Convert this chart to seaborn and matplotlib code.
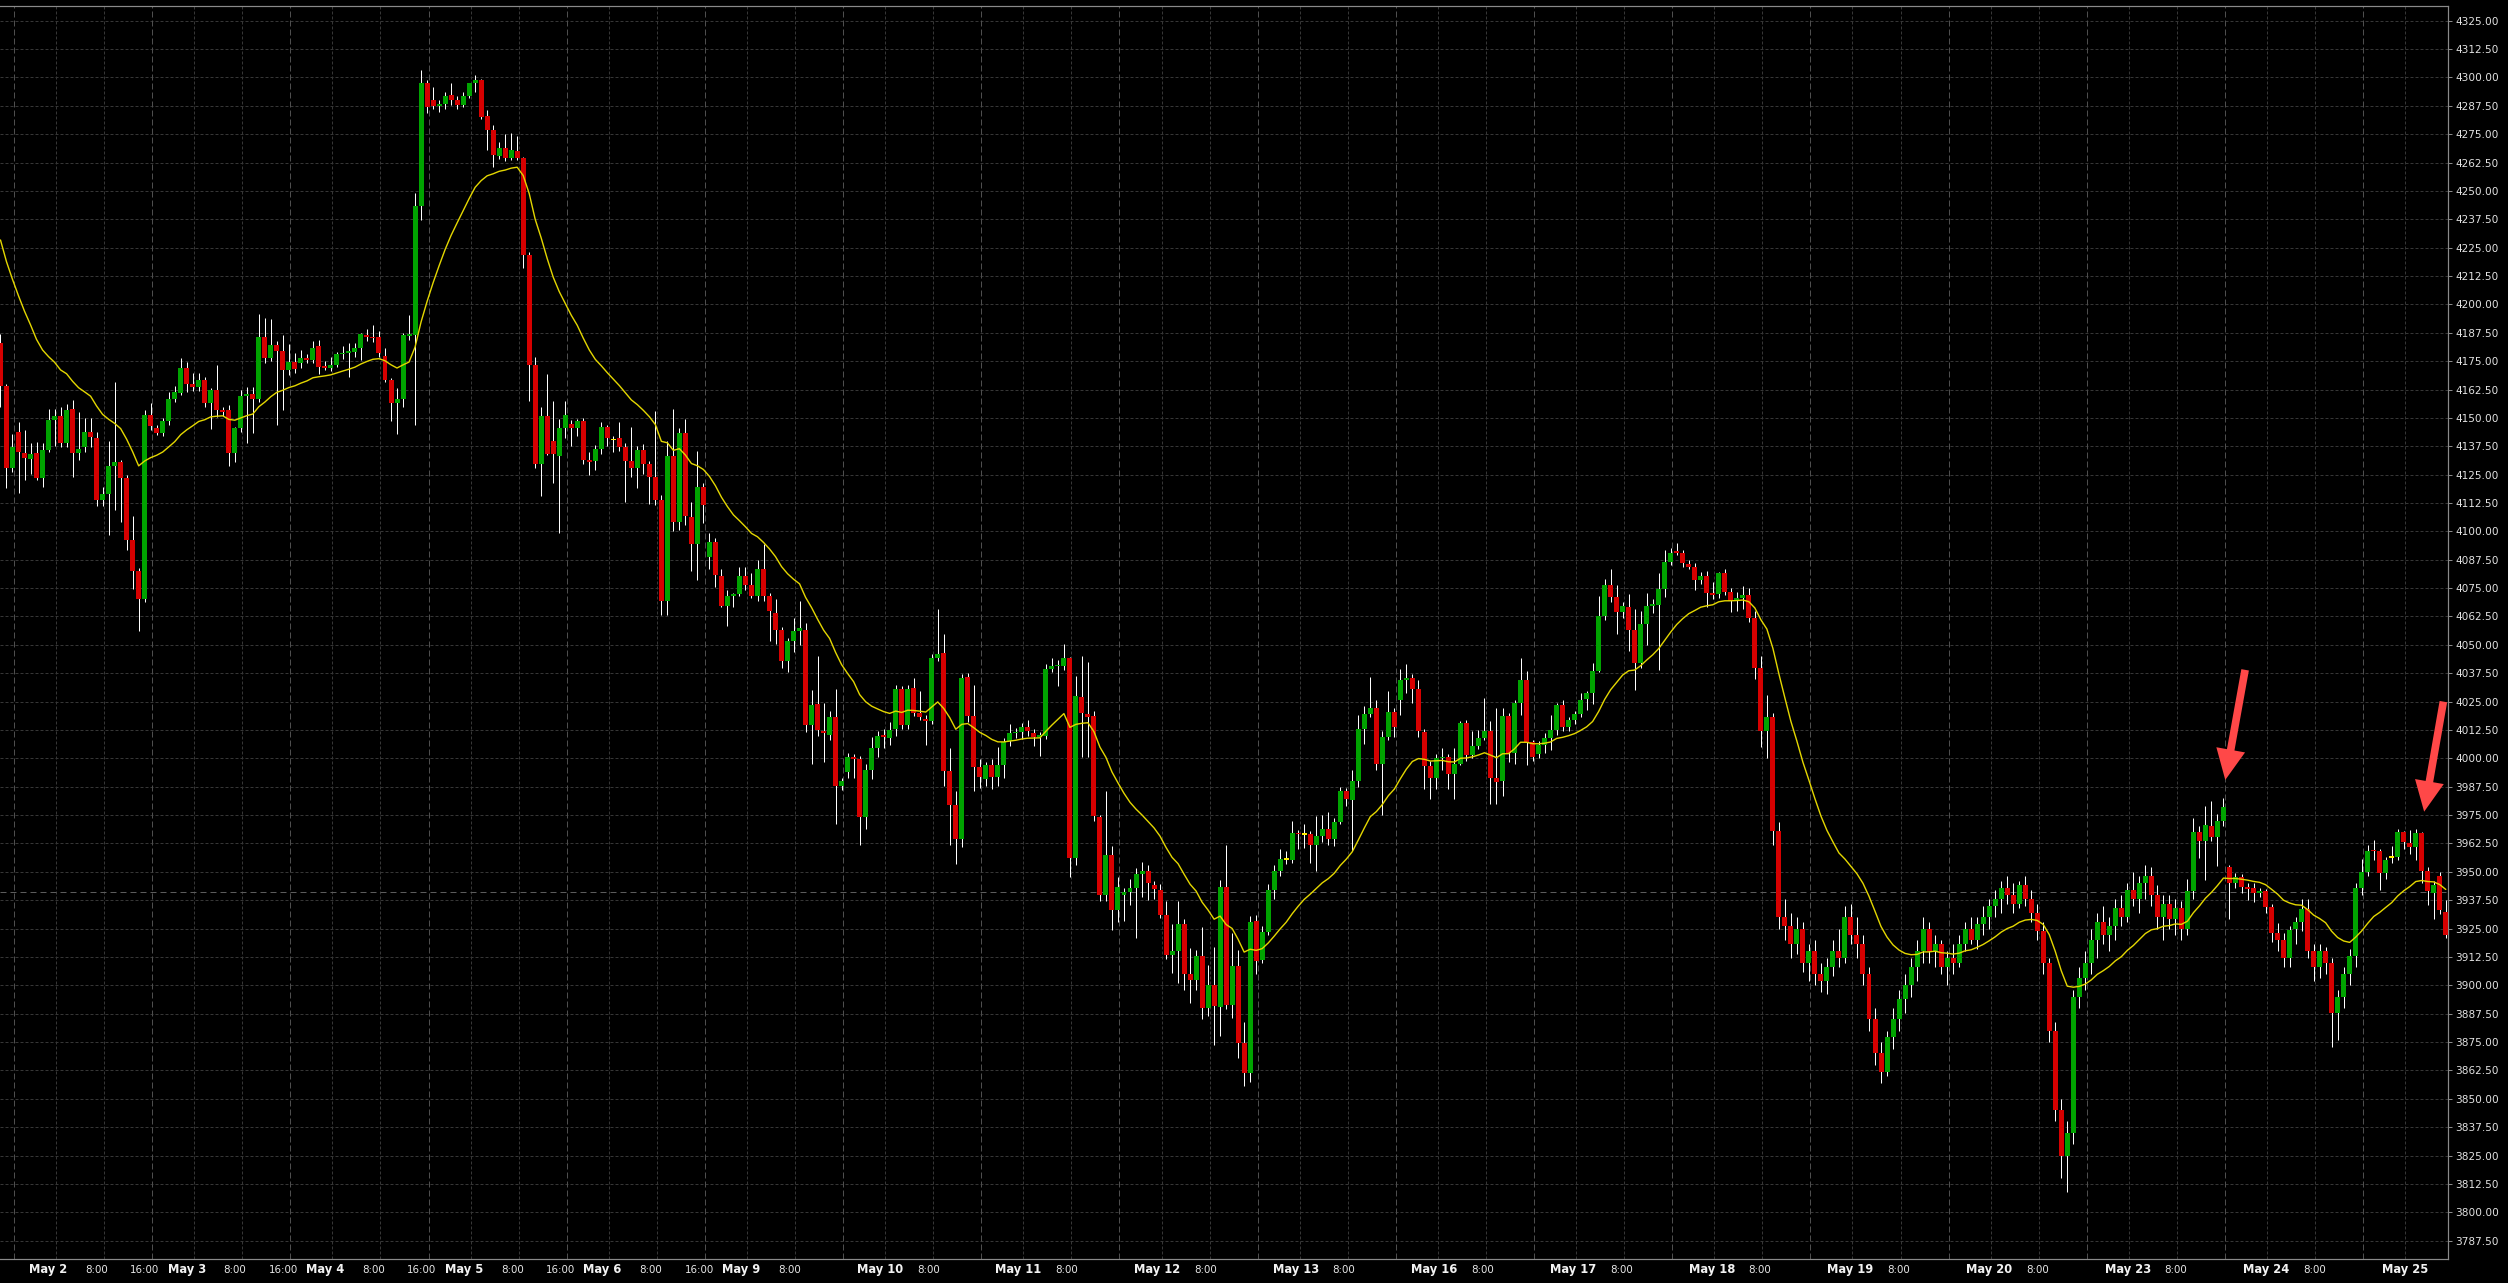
import numpy as np
import pandas as pd
import matplotlib
matplotlib.use("Agg")
import matplotlib.pyplot as plt
import matplotlib.transforms as mtransforms
import seaborn as sns

# hourly candles (index 0 = first candle at the left edge)
opens = [
    4183, 4164, 4128, 4144, 4134.5, 4132, 4134.5, 4123.5, 4136, 4149,
    4151, 4139, 4154, 4134.5, 4137, 4144, 4141, 4114, 4116.5, 4129,
    4130.5, 4123.5, 4096, 4082.5, 4070, 4151.5, 4145.5, 4143.5, 4148.5, 4158.5,
    4161, 4172, 4165, 4163.5, 4166.5, 4156.5, 4162.5, 4153.5, 4153.5, 4134.5,
    4145.5, 4159.5, 4160.5, 4158.5, 4185.5, 4176.5, 4182, 4179.5, 4171, 4174.5,
    4174, 4176.5, 4175.5, 4181.5, 4173, 4172, 4173.5, 4178, 4178.5, 4179,
    4181, 4186.5, 4185.5, 4185.5, 4177.5, 4166.5, 4156.5, 4158.5, 4186, 4186.5,
    4243.5, 4297.5, 4290, 4287.5, 4288.5, 4292.5, 4290, 4288, 4292, 4297.5,
    4299, 4283, 4277, 4265.5, 4269, 4264.5, 4267.5, 4264.5, 4222, 4173.5,
    4129.5, 4151, 4140, 4133, 4145.5, 4147.5, 4145.5, 4148.5, 4131.5, 4131,
    4136.5, 4146, 4140.5, 4141, 4137, 4131, 4128, 4136, 4129.5, 4124,
    4114, 4069.5, 4133, 4104, 4143.5, 4106.5, 4094.5, 4119.5, 4088.5, 4095.5,
    4080.5, 4067, 4071.5, 4072.5, 4080.5, 4076.5, 4071.5, 4083.5, 4071.5, 4064,
    4056.5, 4043, 4051.5, 4056, 4056.5, 4014.5, 4024, 4012, 4010.5, 4018,
    3988, 3994, 4000.5, 3999.5, 3974, 3995, 4004.5, 4010, 4009, 4013,
    4030.5, 4014.5, 4031, 4020, 4017.5, 4016.5, 4044, 4046.5, 3994.5, 3979.5,
    3964.5, 4036, 4018.5, 3996, 3991, 3997, 3992, 3997, 4007.5, 4011,
    4011.5, 4014, 4011, 4009.5, 4010, 4039.5, 4040.5, 4040.5, 4044, 3956,
    4027, 4019.5, 4018.5, 3974, 3940, 3957.5, 3933, 3940, 3941, 3943,
    3949, 3950.5, 3944, 3942, 3931, 3913.5, 3915, 3927, 3905, 3902.5,
    3913, 3890, 3900, 3890.5, 3943.5, 3891.5, 3908.5, 3874.5, 3861.5, 3928.5,
    3911, 3923.5, 3942, 3950.5, 3955.5, 3955, 3967, 3966.5, 3966.5, 3962,
    3966, 3969, 3964.5, 3972, 3985.5, 3981.5, 3990, 4013, 4019.5, 4022,
    3997.5, 4009.5, 4020.5, 4025.5, 4034.5, 4035.5, 4030.5, 4011.5, 3996.5, 3991.5,
    4000, 4000.5, 3993, 3997.5, 4015.5, 4001.5, 4005.5, 4009, 4012, 3991.5,
    3990, 4018.5, 4002.5, 4024.5, 4034.5, 4007, 4002, 4006, 4009, 4012.5,
    4023.5, 4014, 4017, 4019.5, 4026, 4029, 4038.5, 4062.5, 4076.5, 4071,
    4064.5, 4066.5, 4056.5, 4042, 4059, 4067, 4067.5, 4074.5, 4086.5, 4091.5,
    4090.5, 4085.5, 4084.5, 4078.5, 4080.5, 4073, 4072.5, 4081.5, 4073.5, 4069.5,
    4070.5, 4072, 4062, 4040, 4012, 4018, 3968, 3930, 3926, 3918,
    3925, 3910, 3915, 3905, 3902, 3908, 3915, 3912, 3930, 3922,
    3918, 3905, 3885, 3870, 3862, 3877, 3885, 3894, 3900, 3908,
    3915, 3925, 3915, 3918, 3908, 3912, 3910, 3918, 3925, 3920,
    3927, 3930, 3935, 3938, 3943, 3940, 3936, 3944, 3938, 3932,
    3924, 3910, 3880, 3845, 3825, 3835, 3895, 3903, 3910, 3920,
    3928, 3922, 3926, 3934, 3930, 3942, 3938, 3945, 3948, 3940,
    3930, 3936, 3929, 3934, 3925, 3941.5, 3967.5, 3963.5, 3970, 3965.5,
    3972.5, 3952, 3945, 3947.5, 3943.5, 3943, 3940.5, 3941.5, 3934.5, 3923,
    3920, 3912, 3925, 3928, 3933.5, 3915, 3908, 3915, 3910, 3888,
    3895, 3905, 3913, 3943, 3950, 3959.5, 3959, 3949.5, 3956.5, 3956.5,
    3967.5, 3962.5, 3961, 3967, 3950.5, 3940.5, 3948, 3932.5,
]
highs = [
    4187, 4165, 4143, 4148, 4144.5, 4139, 4139.5, 4139, 4154, 4154,
    4155, 4156, 4158, 4152.5, 4150, 4150, 4144, 4119.5, 4140, 4166,
    4131.5, 4125, 4107, 4084, 4153.5, 4156.5, 4147, 4150, 4161.5, 4164,
    4176.5, 4174.5, 4170, 4170, 4168, 4163, 4173.5, 4155, 4155.5, 4146,
    4162.5, 4163.5, 4163.5, 4196, 4194, 4193.5, 4184, 4186.5, 4182.5, 4178.5,
    4180, 4178, 4184, 4184.5, 4175, 4177, 4179, 4181.5, 4183, 4183,
    4187.5, 4189, 4191, 4188.5, 4181, 4167.5, 4163, 4187.5, 4195.5, 4249,
    4303.5, 4299, 4296, 4290, 4293.5, 4297.5, 4292, 4293.5, 4297.5, 4301,
    4299.5, 4285.5, 4279, 4271.5, 4275, 4275.5, 4274, 4265, 4223, 4177,
    4155, 4169.5, 4157.5, 4149.5, 4157.5, 4149, 4149.5, 4150, 4135, 4138,
    4148, 4147, 4142, 4148, 4139, 4146, 4137.5, 4138.5, 4131, 4153,
    4116, 4140, 4154, 4145.5, 4149.5, 4113, 4135.5, 4121.5, 4099.5, 4097,
    4083.5, 4074, 4073, 4084.5, 4084.5, 4081.5, 4087.5, 4094.5, 4073, 4070,
    4058, 4053, 4062, 4069.5, 4059.5, 4030, 4045, 4024.5, 4021, 4030.5,
    3991.5, 4002.5, 4002, 4001, 3997.5, 4009.5, 4012, 4013, 4016, 4032.5,
    4032, 4032.5, 4035.5, 4029.5, 4019, 4046, 4066, 4055, 4004.5, 3985.5,
    4037, 4037.5, 4032.5, 3999.5, 3998.5, 3999.5, 4005, 4009, 4015, 4013.5,
    4015.5, 4017, 4013, 4011.5, 4041.5, 4044, 4043.5, 4050.5, 4044.5, 4036.5,
    4045, 4042.5, 4021, 3975, 3985.5, 3961.5, 3947.5, 3943, 3947, 3951.5,
    3954.5, 3953, 3946, 3944.5, 3937, 3927, 3937, 3929, 3916.5, 3915.5,
    3925.5, 3909, 3917, 3946.5, 3962, 3923, 3915.5, 3884, 3930.5, 3931,
    3926, 3944.5, 3953, 3960, 3959, 3972.5, 3968.5, 3971, 3968, 3974.5,
    3975, 3976.5, 3973.5, 3987.5, 3987, 3995, 4019, 4023, 4036, 4025.5,
    4012, 4029.5, 4022, 4039.5, 4041.5, 4037, 4034.5, 4013, 3999, 4002,
    4004.5, 4002, 4004.5, 4016.5, 4017, 4012, 4012.5, 4026.5, 4016.5, 4022,
    4022, 4020, 4025.5, 4044, 4038.5, 4008, 4007.5, 4011, 4019, 4024.5,
    4025.5, 4018, 4021, 4029, 4029.5, 4042, 4071.5, 4079, 4083.5, 4076.5,
    4069, 4072.5, 4066, 4065, 4073, 4070, 4081.5, 4092, 4092.5, 4095,
    4092, 4087.5, 4086, 4082, 4082.5, 4077.5, 4082, 4083.5, 4075, 4073.5,
    4076, 4075, 4065, 4045, 4028, 4020, 3972, 3938, 3932, 3930,
    3928, 3918, 3920, 3910, 3912, 3920, 3925, 3935, 3936, 3930,
    3922, 3908, 3890, 3875, 3880, 3890, 3898, 3905, 3912, 3920,
    3930, 3928, 3922, 3920, 3915, 3918, 3922, 3928, 3930, 3930,
    3935, 3938, 3942, 3946, 3948, 3945, 3946, 3948, 3942, 3936,
    3928, 3912, 3884, 3850, 3840, 3898, 3908, 3915, 3925, 3932,
    3935, 3930, 3938, 3940, 3945, 3950, 3948, 3953, 3952, 3944,
    3940, 3940, 3938, 3937, 3947, 3973.5, 3970, 3979, 3981, 3975.5,
    3982.5, 3953, 3949.5, 3949, 3945, 3945, 3943, 3942.5, 3936, 3927.5,
    3923, 3926, 3930, 3938, 3938, 3918, 3918, 3917, 3912, 3898,
    3908, 3916, 3945, 3955.5, 3962, 3964, 3960, 3956.7, 3961.5, 3969,
    3968, 3968.5, 3969, 3967.5, 3952, 3946, 3950, 3937.5,
]
lows = [
    4155, 4119, 4126, 4117, 4122.5, 4125.5, 4122.5, 4119.5, 4135, 4137.5,
    4137, 4137, 4124, 4131.5, 4135, 4137, 4111, 4111, 4098.5, 4109.5,
    4104, 4092, 4074.5, 4056, 4069, 4144.5, 4142.5, 4142, 4147, 4157,
    4160, 4161.5, 4162, 4162, 4155, 4145, 4150.5, 4151, 4129, 4130.5,
    4144, 4139, 4143.5, 4157, 4174, 4175, 4147, 4153.5, 4169, 4170,
    4172, 4174, 4174, 4169.5, 4171, 4170.5, 4172.5, 4176, 4168, 4177,
    4175.5, 4184, 4183.5, 4177, 4166, 4148.5, 4143, 4155, 4184.5, 4147,
    4237, 4284.5, 4286, 4285, 4286, 4288, 4286, 4287, 4291, 4293.5,
    4281.5, 4268, 4260.5, 4264, 4263, 4263.5, 4263.5, 4216, 4157.5, 4128,
    4115.5, 4133.5, 4121.5, 4099.5, 4141, 4137.5, 4142, 4129.5, 4125, 4127,
    4134, 4137.5, 4135, 4135.5, 4113, 4124, 4119, 4125.5, 4112, 4111.5,
    4063, 4063, 4100, 4100.5, 4103, 4082.5, 4078.5, 4103.5, 4083.5, 4075.5,
    4066.5, 4058.5, 4066.5, 4071.5, 4074, 4070.5, 4069.5, 4069.5, 4051.5, 4050.5,
    4040, 4038, 4047, 4050, 4011.5, 3997.5, 4010, 3998.5, 4008, 3971,
    3986, 3991.5, 3991.5, 3962, 3969, 3991, 4000.5, 4004.5, 4006, 4010,
    4013, 4013, 4018.5, 4017, 4006, 4015, 4043, 3988, 3962, 3953.5,
    3961, 4016, 3985.5, 3987, 3988, 3986.5, 3988, 3991.5, 4005.5, 4009,
    4008.5, 4010, 4005.5, 4001, 4008.5, 4038, 4032, 4039, 3947.5, 3953,
    4000.5, 4000.5, 3972.5, 3937, 3937, 3924.5, 3928, 3928.5, 3935.5, 3921,
    3939, 3937.5, 3938, 3929.5, 3911.5, 3905.5, 3901, 3898, 3892, 3898,
    3885, 3886.5, 3873.5, 3877.5, 3889.5, 3885.5, 3868, 3855.5, 3857.5, 3905,
    3910, 3922, 3938, 3948, 3953.5, 3954, 3960, 3960.5, 3954, 3950.5,
    3963, 3962, 3961.5, 3971, 3979, 3959, 3987.5, 4006.5, 4018, 3995,
    3975, 4008, 4009.5, 4019, 4029, 4024.5, 4009.5, 3986.5, 3982, 3986.5,
    3995, 3986.5, 3982, 3997, 3999, 4000, 4004, 4008, 3980, 3980,
    3983.5, 3998.5, 3997.5, 4019, 3997, 3999, 4000, 4002.5, 4003.5, 4010.5,
    4012, 4012, 4015, 4018, 4021.5, 4024, 4038, 4061, 4069, 4055,
    4062, 4047.5, 4030, 4040, 4050, 4064, 4039, 4071, 4085, 4089.5,
    4084.5, 4083.5, 4074, 4077, 4066.5, 4070, 4070.5, 4072, 4064.5, 4065,
    4066, 4060, 4035, 4005, 4000, 3962, 3925, 3920, 3912, 3914,
    3906, 3902, 3900, 3897, 3896, 3904, 3908, 3910, 3918, 3912,
    3900, 3880, 3865, 3857, 3860, 3872, 3880, 3888, 3895, 3902,
    3910, 3910, 3908, 3905, 3900, 3905, 3908, 3915, 3918, 3916,
    3922, 3925, 3930, 3932, 3936, 3932, 3934, 3935, 3928, 3920,
    3905, 3875, 3840, 3815, 3809, 3830, 3890, 3898, 3905, 3912,
    3918, 3915, 3920, 3926, 3928, 3935, 3932, 3938, 3935, 3925,
    3920, 3925, 3922, 3920, 3922, 3938, 3956, 3946.5, 3963.5, 3952.5,
    3970, 3929, 3943, 3940.5, 3937.5, 3936.5, 3939, 3932, 3919, 3915,
    3908, 3908, 3918, 3924, 3912, 3902, 3903, 3905, 3873, 3876,
    3890, 3900, 3908, 3939.8, 3948, 3955, 3942, 3947, 3954, 3955,
    3960, 3958, 3955, 3945, 3935.5, 3929, 3931.5, 3921,
]
closes = [
    4164, 4128, 4137, 4135, 4132.5, 4134, 4123.5, 4136, 4149, 4151,
    4139, 4153.5, 4134.5, 4136.5, 4144, 4141.5, 4114, 4116.5, 4129, 4130.5,
    4123.5, 4096, 4082.5, 4070, 4151.5, 4146.5, 4143.5, 4148.5, 4158.5, 4161.5,
    4172, 4165, 4163.5, 4166.5, 4156.5, 4162.5, 4153.5, 4152.5, 4134.5, 4145.5,
    4159.5, 4160.5, 4158.5, 4185.5, 4176.5, 4182, 4179.5, 4171, 4174.5, 4171.5,
    4176.5, 4175.5, 4181, 4172.5, 4172, 4173.5, 4178, 4178.5, 4179, 4181,
    4187, 4185.5, 4185, 4178.5, 4166.5, 4156.5, 4158.5, 4186.5, 4186.5, 4243.5,
    4297.5, 4287, 4287.5, 4288.5, 4292, 4290, 4288, 4292, 4297.5, 4299,
    4282.5, 4277, 4266, 4269, 4264.5, 4268, 4264.5, 4222, 4173.5, 4129.5,
    4151, 4134, 4134, 4145.5, 4151.5, 4145.5, 4148.5, 4131.5, 4130.5, 4136.5,
    4146, 4141, 4140.5, 4137, 4131, 4128, 4136, 4129.5, 4124, 4114,
    4069.5, 4133, 4104, 4143.5, 4107, 4094.5, 4119.5, 4111.5, 4095.5, 4081,
    4067, 4071.5, 4072.5, 4080.5, 4076.5, 4071.5, 4083.5, 4071.5, 4065, 4056.5,
    4043, 4051.5, 4056, 4057.5, 4014.5, 4023.5, 4012.5, 4011, 4018, 3988,
    3990, 4000.5, 3999.5, 3974, 3995, 4004.5, 4010, 4009.5, 4012.5, 4030.5,
    4014.5, 4030.5, 4020, 4018, 4016.5, 4044, 4046, 3994.5, 3979.5, 3964.5,
    4035.5, 4018.5, 3996, 3992, 3997, 3992, 3997, 4007, 4011, 4011.5,
    4014, 4012, 4009.5, 4010, 4039.5, 4040.5, 4041, 4044, 3956, 4027.5,
    4020, 4018, 3974.5, 3940, 3957.5, 3933, 3943.5, 3941, 3943, 3949,
    3950.5, 3945, 3942.5, 3931, 3913.5, 3915, 3927, 3905, 3902.5, 3913,
    3890, 3900, 3891, 3943.5, 3891.5, 3908.5, 3874.5, 3861.5, 3928, 3910.5,
    3923.5, 3942, 3950.5, 3955.5, 3955.5, 3967, 3966.5, 3966.5, 3962, 3966,
    3969, 3964.5, 3972, 3985.5, 3982, 3990, 4013, 4019.5, 4022, 3997.5,
    4009.5, 4020.5, 4014, 4034.5, 4035.5, 4030.5, 4012, 3996.5, 3991.5, 4000,
    4000.5, 3993, 3997.5, 4015.5, 4001.5, 4005.5, 4009, 4012, 3991.5, 3989.5,
    4018.5, 4002.5, 4024.5, 4034.5, 4007, 4000.5, 4006, 4009, 4012.5, 4023.5,
    4014, 4017, 4019.5, 4025.5, 4029, 4038.5, 4062.5, 4076.5, 4071, 4064.5,
    4067, 4056.5, 4042, 4059, 4067, 4067.5, 4074.5, 4086.5, 4090.5, 4090.5,
    4086, 4084.5, 4078.5, 4080.5, 4073, 4072, 4081.5, 4073.5, 4069.5, 4070.5,
    4072, 4062, 4040, 4012, 4018, 3968, 3930, 3926, 3918, 3925,
    3910, 3915, 3905, 3902, 3908, 3915, 3912, 3930, 3922, 3918,
    3905, 3885, 3870, 3862, 3877, 3885, 3894, 3900, 3908, 3915,
    3925, 3915, 3918, 3908, 3912, 3910, 3918, 3925, 3920, 3927,
    3930, 3935, 3938, 3943, 3940, 3936, 3944, 3938, 3932, 3924,
    3910, 3880, 3845, 3825, 3835, 3895, 3903, 3910, 3920, 3928,
    3922, 3926, 3934, 3930, 3942, 3938, 3945, 3948, 3940, 3930,
    3936, 3929, 3934, 3925, 3941.5, 3967.5, 3963.5, 3970.5, 3965.5, 3972.5,
    3978.5, 3945, 3947.5, 3943.5, 3942.5, 3940.5, 3941.5, 3934.5, 3923, 3920,
    3912, 3924.5, 3928, 3933.5, 3915, 3908, 3915, 3910, 3888, 3895,
    3905, 3913, 3943, 3950, 3959, 3959, 3949.5, 3955, 3956.5, 3967.5,
    3963, 3961, 3967, 3950.5, 3941.5, 3944, 3933, 3922,
]
# yellow line: 20-period exponential average of closes, value at the first candle
ma_start = 4228.4
ma_span = 20
last_price = 3941.25

day_names = ["May 2", "May 3", "May 4", "May 5", "May 6", "May 9", "May 10", "May 11",
             "May 12", "May 13", "May 16", "May 17", "May 18", "May 19", "May 20",
             "May 23", "May 24", "May 25"]
day_len = 23
first_day = 9
hour_labels_full = 5      # days that show both 8:00 and 16:00
ytick_vals = np.arange(3787.5, 4325.01, 12.5)

# ------------------------------------------------------------------
sns.set_theme(style="dark", rc={"axes.facecolor": "black", "figure.facecolor": "black"})
plt.rcParams["font.family"] = ["DejaVu Sans"]

df = pd.DataFrame({"open": opens, "high": highs, "low": lows, "close": closes})
df["idx"] = np.arange(len(df))
seed = pd.Series([ma_start] + closes[1:])
df["ma"] = seed.ewm(span=ma_span, adjust=False).mean().to_numpy()

W, H = 2508, 1283
fig = plt.figure(figsize=(W / 100, H / 100), dpi=100, facecolor="black")
ax = fig.add_axes([0, 24 / H, 2448 / W, 1253 / H])
ax.set_facecolor("black")
PX = 0.72  # one pixel in points

ax.set_xlim(-0.08, 407.37)
ax.set_ylim(3779.4, 4331.5)

# horizontal grid
for y in ytick_vals:
    ax.axhline(y, color="#363636", lw=PX, ls=(0, (3, 2)), zorder=0)

# vertical grid: 0:00, 8:00 dim, 16:00 brighter
day_starts = [first_day + day_len * k for k in range(len(day_names))]
ax.axvline(first_day - 7 + 0.25, color="#4e4e4e", lw=PX, ls=(0, (6, 3)), zorder=0)
for d in day_starts:
    ax.axvline(d + 0.25, color="#363636", lw=PX, ls=(0, (3, 2)), zorder=0)
    if d + 8 < 407:
        ax.axvline(d + 8.25, color="#363636", lw=PX, ls=(0, (3, 2)), zorder=0)
    if d + 16 < 407:
        ax.axvline(d + 16.25, color="#4e4e4e", lw=PX, ls=(0, (6, 3)), zorder=0)

ax.axhline(last_price, color="#5c5c5c", lw=PX, ls=(0, (6, 4)), zorder=1)

# candles
o = df["open"].to_numpy()
c = df["close"].to_numpy()
hi = np.maximum(df["high"].to_numpy(), np.maximum(o, c))
lo = np.minimum(df["low"].to_numpy(), np.minimum(o, c))
x = df["idx"].to_numpy()
ax.vlines(x, lo, hi, color="white", lw=PX, zorder=2)
up = c > o
dn = c < o
eq = c == o
body_w = 0.83
min_h = 0.8
ax.bar(x[up], np.maximum(c[up] - o[up], min_h), bottom=o[up], width=body_w,
       color="#00a300", linewidth=0, zorder=3)
ax.bar(x[dn], np.maximum(o[dn] - c[dn], min_h), bottom=c[dn], width=body_w,
       color="#d60000", linewidth=0, zorder=3)
ax.bar(x[eq], min_h, bottom=o[eq] - min_h / 2, width=body_w,
       color="#ffee00", linewidth=0, zorder=3)

# moving average
sns.lineplot(data=df, x="idx", y="ma", ax=ax, color="#e3d600", linewidth=1.4 * PX,
             zorder=5, legend=False)

# arrows
arrow_kw = dict(arrowstyle="simple,head_length=2.2,head_width=2.1,tail_width=0.55",
                mutation_scale=10, color="#ff4848", shrinkA=0, shrinkB=0, lw=0)
ax.annotate("", xy=(370.3, 3990.5), xytext=(373.6, 4039), arrowprops=arrow_kw,
            annotation_clip=False, zorder=6)
ax.annotate("", xy=(403.4, 3976.5), xytext=(406.6, 4025), arrowprops=arrow_kw,
            annotation_clip=False, zorder=6)

# axes styling
ax.spines["left"].set_visible(False)
for s in ["right", "bottom", "top"]:
    ax.spines[s].set_visible(True)
    ax.spines[s].set_color("#8a8a8a")
    ax.spines[s].set_linewidth(1.2 * PX)

ax.yaxis.tick_right()
ax.set_yticks(ytick_vals)
ax.set_yticklabels([f"{v:.2f}" for v in ytick_vals])
ax.tick_params(axis="y", which="both", right=True, left=False, length=3, width=PX,
               color="#8a8a8a", pad=2, labelsize=7.6, labelcolor="#e2e2e2")
ax.set_xticks([])
ax.set_xlabel("")
ax.set_ylabel("")
ax.grid(False)

# x labels under the axis
trans = mtransforms.blended_transform_factory(ax.transData, ax.transAxes)
ylab = -11 / 1253


def lab_pos(p):
    return p - 1.1 + 1.3 * p / 400


for k, (d, name) in enumerate(zip(day_starts, day_names)):
    ax.text(lab_pos(d), ylab, name, transform=trans, ha="center", va="center",
            fontsize=8.3, fontweight="bold", color="#f2f2f2", clip_on=False)
    if d + 8 < 405:
        ax.text(lab_pos(d + 8), ylab, "8:00", transform=trans, ha="center", va="center",
                fontsize=7.4, color="#e8e8e8", clip_on=False)
    if k < hour_labels_full:
        ax.text(lab_pos(d + 16), ylab, "16:00", transform=trans, ha="center", va="center",
                fontsize=7.4, color="#e8e8e8", clip_on=False)

fig.savefig("out.png", dpi=100, facecolor="black")
